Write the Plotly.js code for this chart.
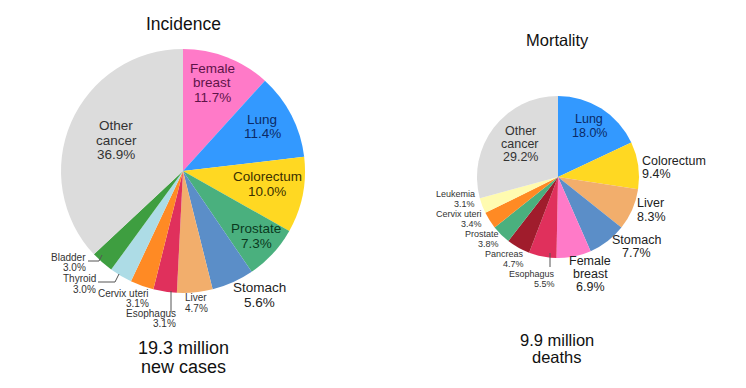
<!DOCTYPE html>
<html><head><meta charset="utf-8">
<script src="https://cdn.plot.ly/plotly-3.0.1.min.js"></script>
<style>html,body{margin:0;padding:0;background:#fff;}#chart{width:746px;height:388px;}</style>
</head><body><div id="chart"></div>
<script>
// Incidence data
const incLabels = ["Female breast","Lung","Colorectum","Prostate","Stomach","Liver","Esophagus","Cervix uteri","Thyroid","Bladder","Other cancer"];
const incValues = [11.7,11.4,10.0,7.3,5.6,4.7,3.1,3.1,3.0,3.0,36.9];
const incColors = ["#FF7AC8","#3399FF","#FFD822","#4AB07E","#5B8EC8","#F2AE6C","#E0305C","#FF8A24","#ADDCE6","#3E9E40","#DCDCDC"];
// Mortality data
const morLabels = ["Lung","Colorectum","Liver","Stomach","Female breast","Esophagus","Pancreas","Prostate","Cervix uteri","Leukemia","Other cancer"];
const morValues = [18.0,9.4,8.3,7.7,6.9,5.5,4.7,3.8,3.4,3.1,29.2];
const morColors = ["#3399FF","#FFD822","#F2AE6C","#5B8EC8","#FF7AC8","#E0305C","#A01C2C","#4AB07E","#FF8A24","#FFFBB0","#DCDCDC"];
const incTotal = "19.3 million", incUnit = "new cases";
const morTotal = "9.9 million", morUnit = "deaths";

const W = 746, H = 388;
function dom(cx, cy, r){ return {x:[(cx-r)/W,(cx+r)/W], y:[(H-cy-r)/H,(H-cy+r)/H]}; }
function pct(v){ return v.toFixed(1) + "%"; }

const traces = [
  {type:"pie", labels:incLabels, values:incValues, sort:false, direction:"clockwise", rotation:0,
   marker:{colors:incColors, line:{width:0}}, textinfo:"none", hoverinfo:"label+percent",
   domain:dom(183,171,122), showlegend:false},
  {type:"pie", labels:morLabels, values:morValues, sort:false, direction:"clockwise", rotation:0,
   marker:{colors:morColors, line:{width:0}}, textinfo:"none", hoverinfo:"label+percent",
   domain:dom(558,177,81), showlegend:false}
];

const anns = [];
function t(text, x, y, size, color, anchor){
  anns.push({text:text, x:x/W, y:(H-y)/H, xref:"paper", yref:"paper", xanchor:anchor||"center", yanchor:"middle",
    showarrow:false, borderpad:0, font:{family:"Liberation Sans, Arial, sans-serif", size:size, color:color||"#222"}});
}
function lab(lines, x, y, dy, size, color, anchor){ lines.forEach((s,i)=>t(s, x, y+i*dy, size, color, anchor)); }

// Incidence titles
t("Incidence", 183, 24, 17.5, "#111");
t(incTotal, 183, 348, 18, "#111");
t(incUnit, 183, 367, 18, "#111");
const iv = incValues;
lab(["Female","breast",pct(iv[0])], 212, 68, 14.5, 13.5, "#5E1448");
lab(["Lung",pct(iv[1])], 262, 119, 14.5, 13.5, "#0B2A66");
lab(["Colorectum",pct(iv[2])], 267, 176, 15, 13.5, "#3A3000");
lab(["Prostate",pct(iv[3])], 256, 228, 15, 13.5, "#0B3A1E");
lab(["Stomach",pct(iv[4])], 259, 287, 15, 13.5, "#222");
lab(["Liver",pct(iv[5])], 196, 297, 11, 10, "#333");
lab(["Esophagus",pct(iv[6])], 177, 313, 10.5, 10, "#333", "right");
lab(["Cervix uteri",pct(iv[7])], 150, 293, 10.5, 10, "#333", "right");
lab(["Thyroid",pct(iv[8])], 97, 278, 11, 10, "#333", "right");
lab(["Bladder",pct(iv[9])], 87, 257, 10.5, 10, "#333", "right");
lab(["Other","cancer",pct(iv[10])], 116, 126, 14, 13.5, "#333");

// Mortality titles
t("Mortality", 557, 40, 16.5, "#111");
t(morTotal, 557, 340, 16.5, "#111");
t(morUnit, 557, 357, 16.5, "#111");
const mv = morValues;
lab(["Lung",pct(mv[0])], 589, 119, 14, 12.5, "#0B2A66");
lab(["Colorectum",pct(mv[1])], 641, 161, 12.5, 12.5, "#222", "left");
lab(["Liver",pct(mv[2])], 636, 203, 13.5, 12.5, "#222", "left");
lab(["Stomach",pct(mv[3])], 636, 240, 13, 12.5, "#222");
lab(["Female","breast",pct(mv[4])], 590, 261, 13, 12.5, "#222");
lab(["Esophagus",pct(mv[5])], 556, 274, 10, 9, "#333", "right");
lab(["Pancreas",pct(mv[6])], 525, 254, 10, 9, "#333", "right");
lab(["Prostate",pct(mv[7])], 500, 234, 10, 9, "#333", "right");
lab(["Cervix uteri",pct(mv[8])], 483, 214, 10, 9, "#333", "right");
lab(["Leukemia",pct(mv[9])], 476, 194, 10, 9, "#333", "right");
lab(["Other","cancer",pct(mv[10])], 520, 131, 13, 12.5, "#333");

function seg(x0,y0,x1,y1){ return {type:"line", xref:"paper", yref:"paper", x0:x0/W, y0:(H-y0)/H, x1:x1/W, y1:(H-y1)/H, line:{color:"#555", width:1}}; }
const shapes = [
  seg(171,291,171,312),
  seg(88,261,99,261), seg(99,261,102,255),
  seg(98,282,115,282), seg(115,282,119,274),
  seg(550,253,550,267)
];

Plotly.newPlot("chart", traces, {
  width:W, height:H, margin:{l:0,r:0,t:0,b:0}, paper_bgcolor:"#fff", plot_bgcolor:"#fff",
  annotations:anns, shapes:shapes, showlegend:false
}, {displayModeBar:false, staticPlot:true});
</script></body></html>
